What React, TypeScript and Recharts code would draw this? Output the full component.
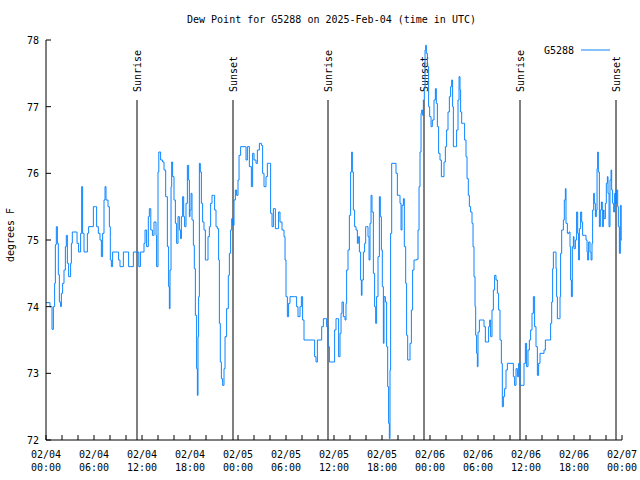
import React from 'react';
import { LineChart, Line, XAxis, YAxis, ReferenceLine } from 'recharts';

const FONT = "'DejaVu Sans Mono', monospace";
const LINE_COLOR = '#0a84ff';

// hours since 2025-02-04 00:00 UTC
const hours = [
  0, 0.25, 0.5, 0.75, 0.92, 1.08, 1.17, 1.29, 1.42, 1.54, 1.67, 1.83, 1.92, 2.08, 2.25, 2.42, 2.54, 2.67, 2.83,
  3.08, 3.17, 3.29, 3.75, 3.88, 4.08, 4.25, 4.33, 4.46, 4.58, 4.75, 5.0, 5.17, 5.33, 5.75, 5.92, 6.17, 6.33,
  6.54, 6.75, 6.92, 7.08, 7.25, 7.38, 7.5, 7.75, 7.92, 8.04, 8.17, 8.33, 8.92, 9.08, 9.25, 9.5, 9.67, 10.17,
  10.33, 10.58, 10.92, 11.42, 11.6, 11.8,
  12.0, 12.25, 12.38, 12.58, 12.79, 12.92, 13.1, 13.3, 13.5, 13.75, 13.83, 14.0, 14.1, 14.33, 14.58, 14.75,
  14.96, 15.17, 15.33, 15.42, 15.5, 15.63, 15.71, 15.83, 16.0, 16.17, 16.33, 16.5, 16.67, 16.83, 16.92, 17.08,
  17.21, 17.33, 17.5, 17.67, 17.83, 17.92, 18.0, 18.13, 18.25, 18.42, 18.54, 18.67, 18.83, 18.92, 19.0, 19.08,
  19.17, 19.29, 19.42, 19.58, 19.75, 19.92, 20.08, 20.25, 20.42, 20.58, 20.75, 20.92, 21.08, 21.25, 21.42,
  21.58, 21.67, 21.79, 21.92, 22.08, 22.25, 22.38, 22.58, 22.79, 22.92, 23.08, 23.21, 23.33, 23.5, 23.67,
  23.83, 24.0, 24.13,
  24.33, 24.9, 25.0, 25.17, 25.42, 25.67, 25.83, 26.0, 26.25, 26.42, 26.67, 26.92, 27.08, 27.25, 27.5, 27.67,
  27.92, 28.08, 28.25, 28.42, 28.67, 28.92, 29.08, 29.25, 29.5, 29.75, 29.88, 30.0, 30.17, 30.33, 30.5, 31.08,
  31.33, 31.5, 31.75, 31.92, 32.08, 32.25, 33.42, 33.58, 33.75, 33.92, 34.25, 34.46, 34.67, 34.92, 35.08,
  35.25, 35.42, 35.92, 36.08, 36.25, 36.42, 36.58, 36.75, 36.88, 37.0, 37.17, 37.38, 37.5, 37.58, 37.75,
  37.92, 38.08, 38.21, 38.29, 38.42, 38.58, 38.75, 38.92, 39.04, 39.17, 39.33, 39.42, 39.5, 39.67, 39.83,
  39.96, 40.08, 40.25, 40.38, 40.5, 40.63, 40.75, 40.92, 41.08, 41.21, 41.33, 41.5, 41.67, 41.79, 41.92,
  42.04, 42.17, 42.25, 42.42, 42.58, 42.71, 42.83, 42.92, 43.0, 43.08, 43.21, 43.63, 43.75, 43.92, 44.17,
  44.25, 44.38, 44.5, 44.67, 44.79, 44.96, 45.08, 45.21, 45.42, 45.5, 45.67, 45.83, 46.0, 46.33, 46.5, 46.63,
  46.75, 46.88, 46.96, 47.08, 47.17, 47.29, 47.38, 47.46, 47.54, 47.67, 47.83, 47.96, 48.13, 48.29, 48.5,
  48.67, 48.79, 48.92, 49.08, 49.25, 49.42, 49.63, 49.75, 49.92, 50.08, 50.25, 50.42, 50.58, 50.71, 50.83,
  50.92, 51.17, 51.33, 51.5, 51.63, 51.75, 51.83, 51.96, 52.17, 52.33, 52.5, 52.63, 52.79, 52.92, 53.08,
  53.25, 53.38, 53.5, 53.63, 53.71, 53.83, 53.92, 54.0, 54.17, 54.58, 54.75, 54.92, 55.17, 55.33, 55.46,
  55.58, 55.75, 55.92, 56.08, 56.25, 56.42, 56.58, 56.75, 56.92, 57.04, 57.17, 57.33, 57.5, 57.67, 58.25,
  58.42, 58.58, 58.75, 58.92, 59.08, 59.25, 59.58, 59.75, 59.92, 60.08, 60.25, 60.42, 60.58, 60.75, 60.92,
  61.08, 61.25, 61.42, 61.58, 61.75, 62.0, 62.25, 62.42, 62.92, 63.08, 63.21, 63.33, 63.42, 63.67, 63.75,
  63.83, 63.92, 64.17, 64.25, 64.33, 64.46, 64.67, 64.79, 64.92, 65.0, 65.17, 65.38, 65.5, 65.58, 65.67,
  65.79, 65.92, 66.0, 66.17, 66.33, 66.46, 66.58, 66.67, 66.83, 66.96, 67.08, 67.29, 67.5, 67.63, 67.71,
  67.83, 68.0, 68.13, 68.25, 68.33, 68.46, 68.54, 68.67, 68.79, 68.88, 68.96, 69.04, 69.17, 69.29, 69.42,
  69.54, 69.67, 69.75, 69.92, 70.04, 70.17, 70.25, 70.38, 70.5, 70.63, 70.71, 70.83, 70.96, 71.08, 71.21,
  71.33, 71.46, 71.54, 71.67, 71.79, 71.9, 72.0,
];

// dew point, degrees F
const dewPoint = [
  74.06, 74.06, 74.0, 73.66, 74.0, 74.35, 74.93, 75.2, 74.95, 74.48, 74.07, 74.0, 74.2, 74.35, 74.55, 74.9, 75.07, 74.65, 74.45,
  74.65, 74.95, 75.12, 75.12, 74.95, 74.82, 74.82, 75.1, 75.8, 75.1, 74.82, 74.82, 75.1, 75.2, 75.2, 75.5, 75.5, 75.2,
  75.1, 75.0, 74.75, 75.1, 75.6, 75.8, 75.6, 75.5, 75.2, 74.7, 74.6, 74.82, 74.82, 74.7, 74.6, 74.6, 74.82, 74.82,
  74.6, 74.6, 74.82, 74.82, 74.6, 74.82,
  74.82, 74.95, 75.15, 74.9, 75.35, 75.47, 75.15, 75.07, 75.27, 75.07, 74.6, 76.02, 76.32, 76.2, 76.17, 76.05,
  75.65, 74.9, 74.3, 73.97, 74.55, 75.8, 76.17, 75.95, 75.6, 75.25, 74.95, 75.35, 75.15, 75.02, 75.35, 75.65,
  75.35, 75.2, 75.55, 76.12, 75.9, 75.35, 75.45, 75.7, 75.3, 74.92, 74.57, 73.87, 73.07, 72.67, 73.55, 74.15,
  76.15, 76.02, 75.55, 75.27, 75.15, 74.7, 74.7, 75.05, 75.2, 75.55, 75.67, 75.67, 75.45, 75.2, 75.17,
  74.7, 73.75, 73.17, 72.92, 72.82, 73.07, 73.55, 73.97, 74.47, 74.8, 75.15, 75.32, 75.22, 75.6, 75.75,
  75.67, 75.9, 76.27,
  76.4, 76.4, 76.2, 76.4, 76.1, 75.8, 76.3, 76.2, 76.15, 76.35, 76.45, 76.42, 76.0, 75.8, 75.95, 76.15,
  76.15, 75.4, 75.2, 75.47, 75.17, 75.17, 75.42, 75.27, 75.15, 75.05, 74.7, 74.15, 73.85, 74.05, 74.15, 74.15,
  74.0, 73.85, 74.0, 74.15, 73.8, 73.5, 73.5, 73.25, 73.17, 73.5, 73.5, 73.7, 73.82, 73.82, 73.7,
  73.4, 73.17, 73.17, 73.65, 73.82, 73.82, 73.25, 73.6, 73.9, 74.07, 73.85, 73.8, 74.05, 74.55, 74.85,
  75.37, 76.02, 76.32, 76.02, 75.45, 75.2, 75.15, 74.95, 75.05, 74.82, 74.4, 74.17, 74.4, 74.82, 74.95,
  75.2, 75.2, 75.05, 74.7, 75.25, 75.67, 75.42, 74.5, 74.0, 73.75, 74.15, 74.75, 75.65, 75.35, 74.85,
  74.3, 73.45, 74.15, 74.07, 73.4, 72.8, 72.25, 72.02, 73.05, 75.1, 76.15, 76.15, 76.0, 75.67, 75.67,
  75.55, 75.15, 75.52, 75.62, 74.9, 74.35, 73.57, 73.2, 73.2, 73.45, 73.95, 74.55, 74.7, 74.71, 75.15, 75.8,
  76.32, 76.9, 76.95, 76.87, 77.1, 77.27, 77.85, 77.92, 77.8, 77.6, 77.0, 76.85, 76.7, 76.8, 77.1,
  77.27, 77.05, 76.7, 76.3, 76.2, 75.95, 75.95, 76.17, 76.4, 76.65, 76.92, 77.15, 77.3, 77.4, 77.0,
  76.4, 76.4, 76.65, 77.1, 77.45, 77.25, 76.92, 76.75, 76.75, 76.5, 76.25, 75.92, 75.67, 75.5, 75.42,
  75.25, 74.9, 74.45, 74.0, 73.57, 73.3, 73.1, 73.62, 73.8, 73.8, 73.7, 73.47, 73.47, 73.7, 73.8,
  73.55, 73.95, 74.25, 74.47, 74.4, 74.2, 73.95, 73.5, 73.15, 72.5, 72.65, 72.77, 73.05, 73.15, 73.15,
  72.95, 72.82, 73.07, 72.95, 73.15, 72.82, 72.82, 73.15, 73.45, 73.1, 73.35, 73.5, 73.65, 73.9, 74.15,
  73.7, 73.4, 72.97, 73.15, 73.3, 73.3, 73.35, 73.5, 73.5, 73.75, 74.07, 74.57, 74.82, 74.82, 74.57,
  74.15, 73.82, 73.82, 74.15, 74.8, 75.15, 75.3, 75.6, 75.77, 75.25, 75.1, 75.12, 74.9, 74.4, 74.15,
  74.9, 75.05, 74.87, 75.0, 75.42, 75.1, 74.7, 75.17, 75.42, 75.27, 75.07, 75.07, 75.0, 74.82, 74.7,
  74.97, 74.82, 74.7, 74.95, 75.45, 75.7, 75.55, 75.35, 75.45, 76.07, 76.32, 76.02, 75.2, 75.45, 75.57,
  75.2, 75.45, 75.32, 75.55, 75.85, 75.95, 75.7, 75.2, 75.9, 76.05, 75.75, 75.55, 75.42, 75.7, 75.55,
  75.75, 75.5, 75.2, 74.8, 75.52, 75.0, 75.0,
];

const xTicks = [0, 2, 4, 6, 8, 10, 12, 14, 16, 18, 20, 22, 24, 26, 28, 30, 32, 34, 36, 38, 40, 42, 44, 46, 48, 50, 52, 54, 56, 58, 60, 62, 64, 66, 68, 70, 72];
const yTicks = [72, 73, 74, 75, 76, 77, 78];

const sunTimes = [11.375, 23.375, 35.25, 47.25, 59.25, 71.25];
const sunLabels = ['Sunrise', 'Sunset', 'Sunrise', 'Sunset', 'Sunrise', 'Sunset'];

const data = hours.map((h, i) => ({ h, dew: dewPoint[i] }));

const fmtDate = (v: number) => {
  const day = 4 + Math.floor(v / 24);
  const hh = v % 24;
  return [`02/0${day}`, `${hh < 10 ? '0' : ''}${hh}:00`];
};

const BottomTick = (props: any) => {
  const { x, y, payload } = props;
  const v = payload.value;
  const major = v % 6 === 0;
  const [d, t] = fmtDate(v);
  return (
    <g>
      <line x1={x} y1={y} x2={x} y2={y - 5} stroke="#000" />
      {major && (
        <text x={x} y={y + 18} textAnchor="middle" fontFamily={FONT} fontSize={10} fill="#000">
          {d}
        </text>
      )}
      {major && (
        <text x={x} y={y + 31} textAnchor="middle" fontFamily={FONT} fontSize={10} fill="#000">
          {t}
        </text>
      )}
    </g>
  );
};

const TopTick = (props: any) => {
  const { x, y } = props;
  return <line x1={x} y1={y} x2={x} y2={y + 5} stroke="#000" />;
};

const LeftTick = (props: any) => {
  const { x, y, payload } = props;
  return (
    <g>
      <line x1={x} y1={y} x2={x + 5} y2={y} stroke="#000" />
      <text x={x - 7} y={y + 4} textAnchor="end" fontFamily={FONT} fontSize={10} fill="#000">
        {payload.value}
      </text>
    </g>
  );
};

const RightTick = (props: any) => {
  const { x, y } = props;
  return <line x1={x} y1={y} x2={x - 5} y2={y} stroke="#000" />;
};

const makeSunLabel = (text: string) => (props: any) => {
  const vb = props.viewBox || {};
  const x = vb.x ?? 0;
  const y = vb.y ?? 0;
  return (
    <text
      transform={`translate(${x + 4}, ${y - 8}) rotate(-90)`}
      textAnchor="start"
      fontFamily={FONT}
      fontSize={10}
      fill="#000"
    >
      {text}
    </text>
  );
};

export default function App() {
  return (
    <div style={{ position: 'absolute', left: 0, top: 0, width: 640, height: 480, background: '#fff' }}>
      <LineChart
        width={640}
        height={480}
        data={data}
        margin={{ top: 40, right: 18, bottom: 0, left: 0 }}
      >
        <XAxis
          xAxisId="bottom"
          dataKey="h"
          type="number"
          domain={[0, 72]}
          ticks={xTicks}
          interval={0}
          height={40}
          tickSize={0}
          tickMargin={0}
          tickLine={false}
          axisLine={{ stroke: '#000' }}
          tick={BottomTick}
          allowDataOverflow
        />
        <XAxis
          xAxisId="top"
          orientation="top"
          dataKey="h"
          type="number"
          domain={[0, 72]}
          ticks={xTicks}
          interval={0}
          height={0}
          tickSize={0}
          tickMargin={0}
          tickLine={false}
          axisLine={{ stroke: '#000' }}
          tick={TopTick}
          allowDataOverflow
        />
        <YAxis
          yAxisId="left"
          type="number"
          domain={[72, 78]}
          ticks={yTicks}
          interval={0}
          width={46}
          tickSize={0}
          tickMargin={0}
          tickLine={false}
          axisLine={{ stroke: '#000' }}
          tick={LeftTick}
          allowDataOverflow
        />
        <YAxis
          yAxisId="right"
          orientation="right"
          type="number"
          domain={[72, 78]}
          ticks={yTicks}
          interval={0}
          width={0}
          tickSize={0}
          tickMargin={0}
          tickLine={false}
          axisLine={{ stroke: '#000' }}
          tick={RightTick}
          allowDataOverflow
        />
        {sunTimes.map((t, i) => (
          <ReferenceLine
            key={`sun-${i}`}
            xAxisId="bottom"
            yAxisId="left"
            segment={[{ x: t, y: 72 }, { x: t, y: 77.1 }]}
            stroke="#000"
            strokeWidth={1}
            ifOverflow="visible"
            label={makeSunLabel(sunLabels[i])}
          />
        ))}
        <Line
          xAxisId="bottom"
          yAxisId="left"
          type="stepAfter"
          dataKey="dew"
          stroke={LINE_COLOR}
          strokeWidth={1}
          dot={false}
          activeDot={false}
          isAnimationActive={false}
        />
      </LineChart>
      <svg
        width={640}
        height={480}
        style={{ position: 'absolute', left: 0, top: 0, pointerEvents: 'none' }}
      >
        <text x={331.5} y={23} textAnchor="middle" fontFamily={FONT} fontSize={10} fill="#000">
          Dew Point for G5288 on 2025-Feb-04 (time in UTC)
        </text>
        <text
          transform="translate(14, 235) rotate(-90)"
          textAnchor="middle"
          fontFamily={FONT}
          fontSize={10}
          fill="#000"
        >
          degrees F
        </text>
        <text x={574} y={54} textAnchor="end" fontFamily={FONT} fontSize={10} fill="#000">
          G5288
        </text>
        <line x1={581} y1={50} x2={610} y2={50} stroke={LINE_COLOR} strokeWidth={1} />
      </svg>
    </div>
  );
}
